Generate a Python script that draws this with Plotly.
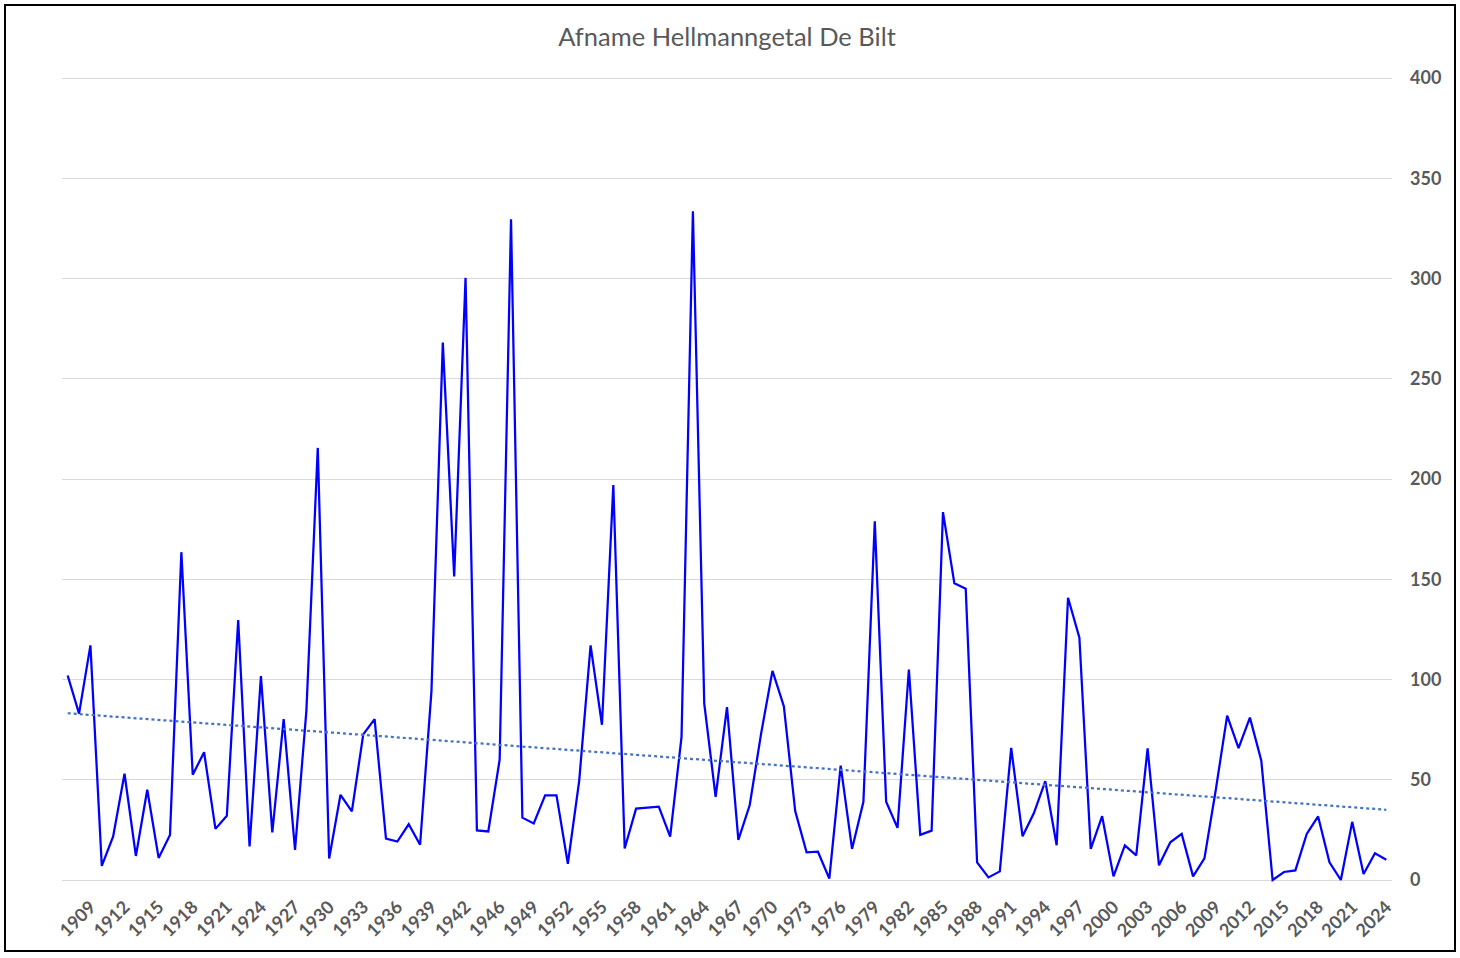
import numpy as np
import plotly.graph_objects as go

years = list(range(1907, 1945)) + list(range(1946, 2025))
hellmann = [
    102, 83, 117, 7, 21.7, 53, 12, 45, 11, 22.5,            # 1907-1916
    163.5, 52.5, 63.7, 25.5, 32, 129.7, 16.7, 101.7, 23.7, 80.2,  # 1917-1926
    15, 84.5, 215.5, 10.7, 42.5, 34.2, 72.6, 80.2, 20.6, 19.2,    # 1927-1936
    27.8, 17.6, 94, 268, 151.4, 300.3, 24.7, 24.2,                # 1937-1944
    60, 329.5, 31.1, 28.2, 42.2, 42.2, 8.1, 49.6, 117, 77.4,      # 1946-1955
    197, 15.7, 35.6, 36, 36.6, 21.6, 71.4, 333.5, 88, 41.5,       # 1956-1965
    86.2, 20, 37.4, 73, 104.3, 86.7, 34.4, 13.8, 14.1, 0.7,       # 1966-1975
    57, 15.5, 39, 178.9, 39, 26, 105, 22.5, 24.6, 183.5,          # 1976-1985
    148, 145.3, 8.8, 1.3, 4.3, 65.9, 21.8, 33.4, 49.3, 17.3,      # 1986-1995
    140.8, 120.8, 15.5, 31.8, 1.8, 17.3, 12.3, 65.6, 7.3, 18.8,   # 1996-2005
    23, 1.8, 10.8, 45, 82, 65.8, 81, 59.6, 0, 4,                  # 2006-2015
    4.8, 23, 31.7, 8.8, 0, 29, 3, 13.3, 10.1,                     # 2016-2024
]
categories = [str(y) for y in years]
tick_labels = categories[2::3]
y_ticks = list(range(0, 401, 50))

# Linear trendline (least squares on category index, as Excel does)
idx = np.arange(1, len(hellmann) + 1)
slope, intercept = np.polyfit(idx, hellmann, 1)
trend = slope * idx + intercept

W, H = 1460, 958
ml, mr, mt, mb = 62, 68, 76, 76
pw, ph = W - ml - mr, H - mt - mb

fig = go.Figure()
fig.add_trace(go.Scatter(
    x=categories, y=hellmann, mode="lines",
    line=dict(color="#0000FF", width=2.25),
    name="Hellmanngetal", showlegend=False,
))
fig.add_trace(go.Scatter(
    x=categories, y=trend, mode="lines",
    line=dict(color="#4472C4", width=2.25, dash="dot"),
    name="Trend", showlegend=False,
))

def px_to_paper_x(px):
    return (px - ml) / pw

def px_to_paper_y(py):
    return (H - mb - py) / ph

fig.add_shape(
    type="rect", xref="paper", yref="paper",
    x0=px_to_paper_x(5), x1=px_to_paper_x(1455),
    y0=px_to_paper_y(951), y1=px_to_paper_y(5),
    line=dict(color="black", width=2), fillcolor="rgba(0,0,0,0)",
    layer="above",
)

fig.update_layout(
    width=W, height=H,
    margin=dict(l=ml, r=mr, t=mt, b=mb),
    paper_bgcolor="white", plot_bgcolor="white",
    title=dict(
        text="Afname Hellmanngetal De Bilt",
        x=0.5, xanchor="center", xref="paper",
        y=1 - 37 / H, yanchor="middle", yref="container",
        font=dict(family="Lato", size=25.5, color="#595959"),
    ),
    xaxis=dict(
        type="category",
        categoryorder="array", categoryarray=categories,
        range=[-0.5, len(categories) - 0.5],
        tickmode="array", tickvals=tick_labels, ticktext=tick_labels,
        tickangle=-45,
        tickfont=dict(family="Lato", size=18, color="#595959", weight="bold"),
        showgrid=False, zeroline=False, showline=False, ticks="",
        ticklabelstandoff=10,
    ),
    yaxis=dict(
        side="right",
        range=[-1, 401],
        tickmode="array", tickvals=y_ticks,
        tickfont=dict(family="Lato", size=18, color="#595959", weight="bold"),
        showgrid=True, gridcolor="#D9D9D9", gridwidth=1,
        zeroline=False, showline=False, ticks="",
        ticklabelstandoff=17,
    ),
)

fig.write_html("out.html", config={"displayModeBar": False},
               post_script="document.body.style.margin='0';")
